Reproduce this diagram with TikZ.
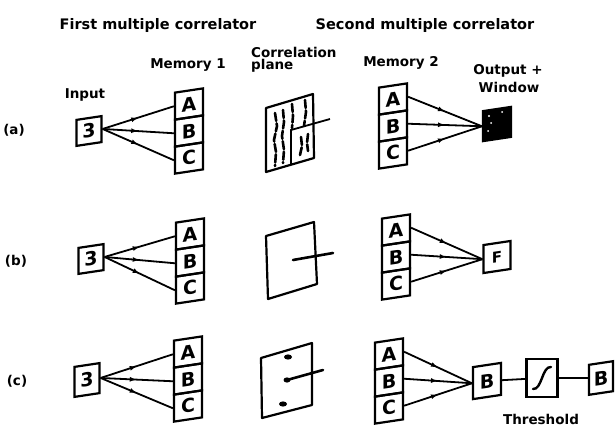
\documentclass[tikz,border=0pt]{standalone}
\usepackage{fontspec}
\setmainfont{DejaVu Sans}
\usetikzlibrary{decorations.markings,arrows.meta,calc}

\tikzset{
  headlbl/.style={font=\bfseries\fontsize{14.5}{16}\selectfont, inner sep=0pt},
  lbl/.style={font=\bfseries\fontsize{13.5}{15}\selectfont, inner sep=0pt},
  cell/.style={draw, line width=2.2pt, minimum width=28pt, minimum height=27pt,
    inner sep=0pt, font=\bfseries\fontsize{19}{19}\selectfont},
  srcbox/.style={cell, minimum width=25pt, minimum height=26pt},
  ray/.style={line width=1.8pt, postaction={decorate},
    decoration={markings, mark=at position 0.5 with {\arrow{Latex[length=7pt,width=5pt]}}}},
  link/.style={line width=1.8pt},
  plane/.style={line width=2.2pt, line join=round},
  streak/.style={line width=2.6pt, line cap=round, dash pattern=on 8pt off 2.5pt},
}

% one memory: three stacked holograms A, B, C (centre of B given)
\newcommand\memstack[3]{%
  \begin{scope}[shift={(#2,#3)}, yslant=0.15]
    \node[cell, transform shape] (#1A) at (0,-27) {A};
    \node[cell, transform shape] (#1B) at (0,0) {B};
    \node[cell, transform shape] (#1C) at (0,27) {C};
  \end{scope}}
% a single slightly tilted box: name, x, y, style, text
\newcommand\tiltbox[5]{%
  \begin{scope}[shift={(#2,#3)}, yslant=0.15]
    \node[#4, transform shape] (#1) at (0,0) {#5};
  \end{scope}}

\begin{document}
\begin{tikzpicture}[x=1pt,y=-1pt]
\useasboundingbox (0,0) rectangle (615,431);

% headings
\node[headlbl] (h1) at (158,25) {First multiple correlator};
\node[headlbl] (h2) at (425,25) {Second multiple correlator};
\node[lbl] (lm1) at (188,65) {Memory 1};
\node[lbl,anchor=west] (lcp1) at (251,52) {Correlation};
\node[lbl,anchor=west] (lcp2) at (251,66) {plane};
\node[lbl] (lm2) at (401,63) {Memory 2};
\node[lbl] (lo1) at (508,71) {Output +};
\node[lbl] (lo2) at (509,87) {Window};
\node[lbl] (lin) at (85,95) {Input};

% row labels
\node[lbl] (ra) at (14,130) {(a)};
\node[lbl] (rb) at (16,261) {(b)};
\node[lbl] (rc) at (17,381) {(c)};

% ---------- row (a) ----------
\tiltbox{ina}{89}{131}{srcbox}{3}
\memstack{ma}{189}{131}
\foreach \c in {A,B,C} \draw[ray] (ina.east) -- (ma\c.west);

\draw[plane] (266,108) -- (313,94) -- (314,158) -- (266,172) -- cycle;
\draw[streak] (275,113) -- (277,126) -- (274,140) -- (276,152) -- (275,166);
\draw[streak] (283,110) -- (284,122) -- (282,136) -- (284,150) -- (283,163);
\draw[streak] (292,104) -- (293,116) -- (292,128);
\draw[streak] (305,100) -- (306,112) -- (304,126);
\draw[streak] (301,137) -- (302,146) -- (300,155);
\draw[streak] (308,134) -- (307,143) -- (308,151);
\draw[line width=1.8pt] (291,165) -- (291,130) -- (330,119);

\memstack{na}{393}{126}
\tiltbox{outa}{497}{124}{cell, fill=black, minimum width=28pt, minimum height=30pt}{}
\fill[white] (489,116) circle (1.2pt) (491,123) circle (1pt) (488,131) circle (1pt) (502,112) circle (1pt);
\foreach \c in {A,B,C} \draw[ray] (na\c.east) -- (outa.west);

% ---------- row (b) ----------
\tiltbox{inb}{91}{259}{srcbox}{3}
\memstack{mb}{190}{261}
\foreach \c in {A,B,C} \draw[ray] (inb.east) -- (mb\c.west);

\draw[plane] (266,236) -- (314,222) -- (317,284) -- (268,299) -- cycle;
\draw[line width=2.6pt, line cap=round] (293,260) -- (333,253);

\memstack{nb}{396}{257}
\tiltbox{outb}{497}{257}{cell, minimum width=27pt, minimum height=28pt, font=\bfseries\fontsize{15}{15}\selectfont}{F}
\foreach \c in {A,B,C} \draw[ray] (nb\c.east) -- (outb.west);

% ---------- row (c) ----------
\tiltbox{inc}{87}{380}{srcbox, minimum height=30pt}{3}
\memstack{mc}{188}{379}
\foreach \c in {A,B,C} \draw[ray] (inc.east) -- (mc\c.west);

\draw[plane] (261,358) -- (312,343) -- (312,405) -- (262,418) -- cycle;
\fill (288,357) ellipse (4pt and 2.6pt);
\fill (283,404) ellipse (4pt and 2.6pt);
\fill (287,380) ellipse (3.5pt and 2.6pt);
\draw[line width=2.6pt, line cap=round] (287,380) -- (323,370);

\memstack{nc}{389}{381}
\tiltbox{outc}{487}{381}{cell, minimum width=28pt, minimum height=32pt}{B}
\foreach \c in {A,B,C} \draw[ray] (nc\c.east) -- (outc.west);

\node[cell, minimum width=31pt, minimum height=38pt] (thr) at (542,378) {};
\draw[line width=2.4pt, line cap=round]
  ($(thr.center)+(-9,11)$) .. controls ($(thr.center)+(0,12)$) and ($(thr.center)+(0,-12)$) .. ($(thr.center)+(9,-11)$);
\tiltbox{fin}{601}{378}{cell, minimum width=24pt, minimum height=30pt}{B}
\draw[link] (outc) -- (thr);
\draw[link] (thr) -- (fin);
\node[lbl] (lthr) at (541,419) {Threshold};

\end{tikzpicture}
\end{document}
